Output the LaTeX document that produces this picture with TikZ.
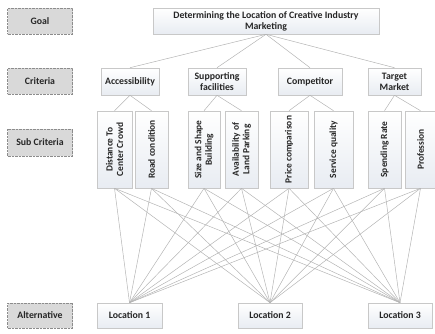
\documentclass[tikz,border=0pt]{standalone}
\usepackage{fontspec}
\setmainfont{Carlito}
\usetikzlibrary{shadings}
\definecolor{txt}{HTML}{262626}
\definecolor{bord}{HTML}{C8C8C8}
\definecolor{lnk}{HTML}{B4B4B4}
\definecolor{lab}{HTML}{D9D9D9}
\definecolor{labb}{HTML}{8C8C8C}
\definecolor{boxb}{HTML}{E8ECF2}
\begin{document}
\begin{tikzpicture}[x=1pt,y=-1pt,
  every node/.style={font=\bfseries\fontsize{9.8}{11}\selectfont, text=txt, align=center, inner sep=1pt},
  lbox/.style={draw=labb, densely dotted, fill=lab, minimum width=65pt, minimum height=26pt},
  wbox/.style={draw=bord, line width=0.6pt, top color=white, bottom color=boxb, shading angle=0},
  subbox/.style={wbox, minimum height=77pt},
  subtext/.style={rotate=90, font=\bfseries\fontsize{9.4}{10.5}\selectfont},
  link/.style={draw=lnk, line width=0.5pt}
]
\useasboundingbox (0,0) rectangle (435,333);
% left labels
\node[lbox] (lg) at (40,21) {Goal};
\node[lbox] (lc) at (40,81) {Criteria};
\node[lbox, minimum height=27pt] (ls) at (40,142.5) {Sub Criteria};
\node[lbox, minimum height=25pt] (la) at (40,315.5) {Alternative};
% goal
\node[wbox, minimum width=226pt, minimum height=26pt] (g) at (266,21) {Determining the Location of Creative Industry\\Marketing};
% criteria
\node[wbox, minimum width=58pt, minimum height=27pt] (c1) at (130,81.5) {Accessibility};
\node[wbox, minimum width=58pt, minimum height=27pt] (c2) at (217,81.5) {Supporting\\facilities};
\node[wbox, minimum width=64pt, minimum height=27pt] (c3) at (310,81.5) {Competitor};
\node[wbox, minimum width=53pt, minimum height=27pt] (c4) at (394.5,81.5) {Target\\Market};
% sub criteria
\node[subbox, minimum width=35pt] (s1) at (114.5,149.5) {};
\node[subbox, minimum width=33pt] (s2) at (151.5,149.5) {};
\node[subbox, minimum width=32pt] (s3) at (204,149.5) {};
\node[subbox, minimum width=33pt] (s4) at (241.5,149.5) {};
\node[subbox, minimum width=38pt] (s5) at (289,149.5) {};
\node[subbox, minimum width=39pt] (s6) at (333.5,149.5) {};
\node[subbox, minimum width=33pt] (s7) at (384.5,149.5) {};
\node[subbox, minimum width=31pt] (s8) at (420.5,149.5) {};
\node[subtext] (t1) at (s1) {Distance To\\Center Crowd};
\node[subtext] (t2) at (s2) {Road condition};
\node[subtext] (t3) at (s3) {Size and Shape\\Building};
\node[subtext] (t4) at (s4) {Availability of\\Land Parking};
\node[subtext] (t5) at (s5) {Price comparison};
\node[subtext] (t6) at (s6) {Service quality};
\node[subtext] (t7) at (s7) {Spending Rate};
\node[subtext] (t8) at (s8) {Profession};
% alternatives
\node[wbox, minimum width=65pt, minimum height=25pt] (a1) at (129.5,315.5) {Location 1};
\node[wbox, minimum width=64pt, minimum height=25pt] (a2) at (270,315.5) {Location 2};
\node[wbox, minimum width=64pt, minimum height=25pt] (a3) at (400,315.5) {Location 3};
% links
\foreach \c in {c1,c2,c3,c4} \draw[link] (g.south) -- (\c.north);
\draw[link] (c1.south) -- (s1.north);
\draw[link] (c1.south) -- (s2.north);
\draw[link] (c2.south) -- (s3.north);
\draw[link] (c2.south) -- (s4.north);
\draw[link] (c3.south) -- (s5.north);
\draw[link] (c3.south) -- (s6.north);
\draw[link] (c4.south) -- (s7.north);
\draw[link] (c4.south) -- (s8.north);
\foreach \s in {s1,s2,s3,s4,s5,s6,s7,s8}
  \foreach \a in {a1,a2,a3}
    \draw[link] (\s.south) -- (\a.north);
\end{tikzpicture}
\end{document}
